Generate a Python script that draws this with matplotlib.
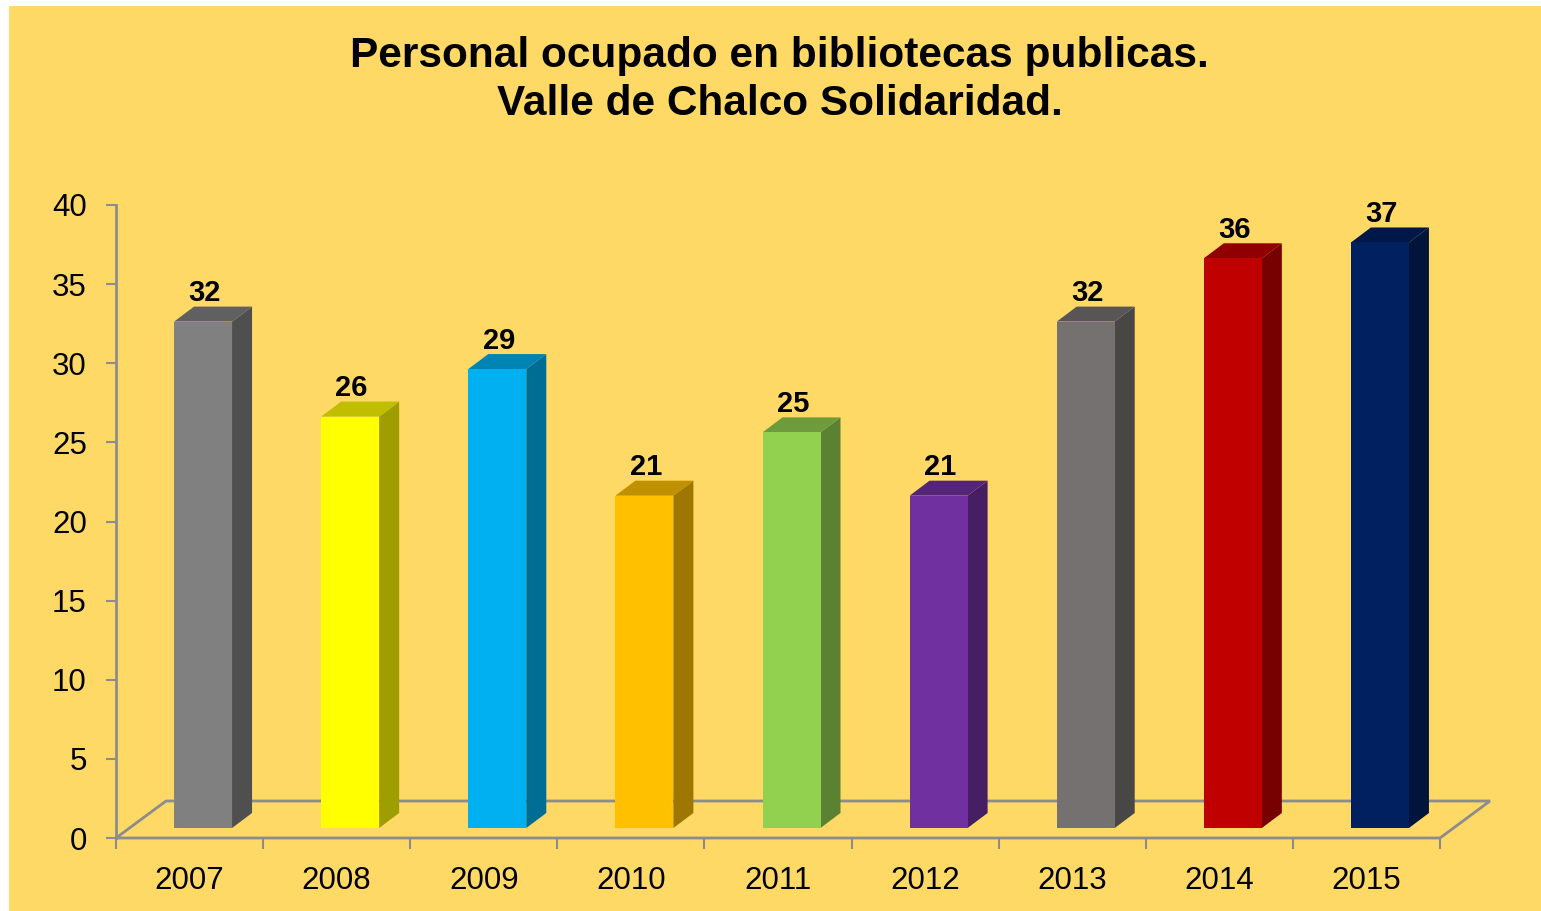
import matplotlib
matplotlib.use('Agg')

import numpy as np
import matplotlib.pyplot as plt
from matplotlib.patches import Polygon, Rectangle
from matplotlib.colors import to_rgb

plt.rcParams['font.family'] = ['Liberation Sans', 'DejaVu Sans']

# datos
years = ['2007', '2008', '2009', '2010', '2011', '2012', '2013', '2014', '2015']
staff = [32, 26, 29, 21, 25, 21, 32, 36, 37]
bar_colors = ['#808080', '#FFFF00', '#00B0F0', '#FFC000', '#92D050',
              '#7030A0', '#767171', '#C00000', '#002060']
title = 'Personal ocupado en bibliotecas publicas.\nValle de Chalco Solidaridad.'

W, H = 1541, 911
bg = '#FFD966'
axis_col = '#8C8C8C'

fig = plt.figure(figsize=(W / 100, H / 100), dpi=100, facecolor='white')
# fondo amarillo del area del grafico
fig.patches.append(Rectangle((9 / W, 0), 1 - 9 / W, (H - 6) / H,
                             transform=fig.transFigure, facecolor=bg,
                             edgecolor='none', zorder=-5))

ax = fig.add_axes([116 / W, 73 / H, 1324 / W, 633 / H])
ax.set_facecolor('none')
ax.set_xlim(-0.5, 8.5)
ax.set_ylim(0, 40)

# pixel -> unidades de datos
px_x = 9 / 1324
px_y = 40 / 633

# piso 3d
fdx, fdy = 50 * px_x, 37 * px_y
floor = [(-0.5, 0), (8.5, 0), (8.5 + fdx, fdy), (-0.5 + fdx, fdy)]
ax.add_patch(Polygon(floor, closed=True, facecolor='none', edgecolor=axis_col,
                     linewidth=2, clip_on=False, zorder=1))
ax.plot([-0.5, -0.5], [0, 40], color=axis_col, lw=2, clip_on=False, zorder=1)

# barras 3d
sx, sy = 13.5 * px_x, 10 * px_y
w = 58 * px_x
ddx, ddy = 20 * px_x, 15 * px_y


def shade(c, f):
    r, g, b = to_rgb(c)
    return (r * f, g * f, b * f)


for i, (v, c) in enumerate(zip(staff, bar_colors)):
    x0 = i - w / 2 + sx
    x1 = i + w / 2 + sx
    y0 = sy
    y1 = v + sy
    front = [(x0, y0), (x1, y0), (x1, y1), (x0, y1)]
    side = [(x1, y0), (x1 + ddx, y0 + ddy), (x1 + ddx, y1 + ddy), (x1, y1)]
    top = [(x0, y1), (x1, y1), (x1 + ddx, y1 + ddy), (x0 + ddx, y1 + ddy)]
    ax.add_patch(Polygon(side, closed=True, facecolor=shade(c, 0.62),
                         edgecolor='none', clip_on=False, zorder=3))
    ax.add_patch(Polygon(top, closed=True, facecolor=shade(c, 0.75),
                         edgecolor='none', clip_on=False, zorder=3))
    ax.add_patch(Polygon(front, closed=True, facecolor=c,
                         edgecolor='none', clip_on=False, zorder=3))
    ax.annotate(str(v), (i + sx + 0.01, y1 + ddy), xytext=(0, 4),
                textcoords='offset points', ha='center', va='baseline',
                fontsize=21, fontweight='bold', color='black',
                annotation_clip=False, zorder=5)

for s in ax.spines.values():
    s.set_visible(False)

ax.set_yticks(np.arange(0, 41, 5))
ax.tick_params(axis='y', length=7, width=1.5, color=axis_col,
               labelsize=22.5, pad=14)
ax.set_xticks(np.arange(-0.5, 9, 1))
ax.set_xticklabels([])
ax.tick_params(axis='x', length=8, width=1.5, color=axis_col)
for i, y in enumerate(years):
    ax.annotate(y, (i, 0), xytext=(0, -20), textcoords='offset points',
                ha='center', va='top', fontsize=22.5, annotation_clip=False)

fig.text(779.5 / W, 1 - 80 / H, title, ha='center', va='center',
         fontsize=30.5, fontweight='bold', linespacing=1.23)

fig.savefig('out.png', dpi=100, facecolor=fig.get_facecolor())
